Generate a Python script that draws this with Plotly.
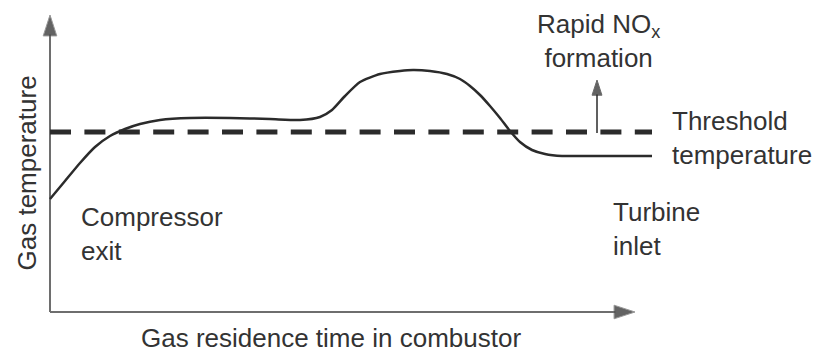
"""Schematic: gas temperature along the combustor vs. NOx threshold."""

import plotly.graph_objects as go

# gas temperature profile (arbitrary units, time from compressor exit)
residence_time = [0, 15, 30, 45, 60, 75, 90, 110, 140, 180, 220, 250, 270, 282, 295,
                  310, 330, 350, 363, 380, 397, 410, 420, 430, 440, 450, 460, 470,
                  482, 495, 512, 540, 602]
gas_temperature = [113, 131, 149, 165, 176, 183, 188, 192, 194, 194, 193, 192, 195, 202, 216,
                   230, 238, 241, 242, 241, 238, 233, 226, 217, 206, 194, 181, 170,
                   162, 158, 156, 156, 156]

threshold_temperature = 180
threshold_span = [0, 602]

# axis extents and the "rapid NOx" arrow
time_axis_end = 585
temp_axis_end = 297
nox_arrow_time = 547
nox_arrow_temps = [179, 232]

INK = "#2b2b2b"
TEXT = "#333333"
FONT = dict(family="Liberation Sans, Arial, sans-serif", size=26, color=TEXT)

fig = go.Figure()

# axes with arrowheads
fig.add_trace(go.Scatter(
    x=[0, 0], y=[0, temp_axis_end], mode="lines+markers",
    line=dict(color="#6e6e6e", width=2),
    marker=dict(symbol="arrow", angleref="previous", size=[0, 22], color="#222222"),
    hoverinfo="skip",
))
fig.add_trace(go.Scatter(
    x=[0, time_axis_end], y=[0, 0], mode="lines+markers",
    line=dict(color="#6e6e6e", width=2),
    marker=dict(symbol="arrow", angleref="previous", size=[0, 22], color="#222222"),
    hoverinfo="skip",
))

# threshold (dashed)
fig.add_trace(go.Scatter(
    x=threshold_span, y=[threshold_temperature] * 2, mode="lines",
    line=dict(color=INK, width=5, dash="21px,13.4px"),
    hoverinfo="skip",
))

# gas temperature curve
fig.add_trace(go.Scatter(
    x=residence_time, y=gas_temperature, mode="lines",
    line=dict(color=INK, width=2.5, shape="spline", smoothing=0.6),
    hovertemplate="t=%{x}<br>T=%{y}<extra></extra>",
))

# rapid NOx arrow
fig.add_trace(go.Scatter(
    x=[nox_arrow_time] * 2, y=nox_arrow_temps, mode="lines+markers",
    line=dict(color=INK, width=1.5),
    marker=dict(symbol="arrow", angleref="previous", size=[0, 16], color="#222222"),
    hoverinfo="skip",
))

labels = [
    dict(x=29, y=78.5, text="Compressor<br>exit", xanchor="left", align="left"),
    dict(x=561, y=83, text="Turbine<br>inlet", xanchor="left", align="left"),
    dict(x=620, y=174.5, text="Threshold<br>temperature", xanchor="left", align="left"),
    dict(x=548, y=271, text="Rapid NO<sub>x</sub><br>formation", xanchor="center", align="center"),
    dict(x=281, y=-26, text="Gas residence time in combustor", xanchor="center", align="center"),
    dict(x=-24, y=138.5, text="Gas temperature", xanchor="center", align="center", textangle=-90),
]
for lab in labels:
    fig.add_annotation(showarrow=False, yanchor="middle", font=FONT, **lab)

fig.update_layout(
    width=815, height=352, margin=dict(l=0, r=0, t=0, b=0),
    paper_bgcolor="white", plot_bgcolor="white", showlegend=False,
    xaxis=dict(visible=False, range=[-50, 765], fixedrange=True),
    yaxis=dict(visible=False, range=[-40, 312], fixedrange=True),
)

# page body has a default 8px margin; drop it so the figure fills the window
fig.write_html("out.html", config={"displayModeBar": False},
               post_script="document.body.style.margin = '0';")
